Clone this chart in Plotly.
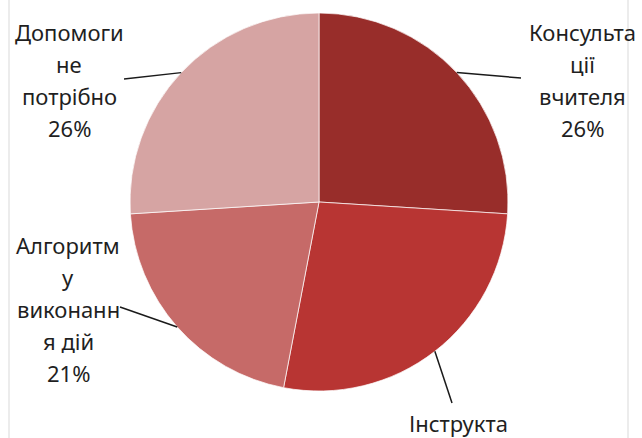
import math
import plotly.graph_objects as go

# ---- data ----
categories = ["Консультації вчителя", "Інструктаж", "Алгоритм у виконанні дій", "Допомоги не потрібно"]
values = [26, 27, 21, 26]
label_lines = [
    ["Консульта", "ції", "вчителя", "26%"],
    ["Інструкта"],                      # rest of this label falls outside the visible area
    ["Алгоритм", "у", "виконанн", "я дій", "21%"],
    ["Допомоги", "не", "потрібно", "26%"],
]
colors = ["#982D2A", "#B83533", "#C66A68", "#D6A4A3"]

# ---- layout constants (pixels) ----
W, H = 642, 438
CX, CY, R = 319, 202, 189
label_pos = [(582, 32), (458, 423), (68, 245), (69, 32)]   # centre x, first-line centre y
line_step = 32
leader_end = [(521, 78), (452, 403), (120, 307), (124, 79)]
FONT = "Noto Sans"

def px(x):
    return x / W

def py(y):
    return 1 - y / H

fig = go.Figure(go.Pie(
    labels=categories,
    values=values,
    sort=False,
    direction="clockwise",
    rotation=0,
    marker=dict(colors=colors, line=dict(color="rgba(255,255,255,0.7)", width=1)),
    textinfo="none",
    hoverinfo="label+percent",
    domain=dict(x=[px(CX - R), px(CX + R)], y=[py(CY + R), py(CY - R)]),
    showlegend=False,
))

shapes = []
annotations = []
total = sum(values)
cum = 0
for i, v in enumerate(values):
    mid = (cum + v / 2) / total * 2 * math.pi
    cum += v
    sx = CX + R * math.sin(mid)
    sy = CY - R * math.cos(mid)
    ex, ey = leader_end[i]
    shapes.append(dict(type="line", xref="paper", yref="paper",
                       x0=px(sx), y0=py(sy), x1=px(ex), y1=py(ey),
                       line=dict(color="#1a1a1a", width=1.5)))
    lx, ly = label_pos[i]
    for k, t in enumerate(label_lines[i]):
        annotations.append(dict(text=t, x=px(lx), y=py(ly + k * line_step),
                                xref="paper", yref="paper", showarrow=False,
                                xanchor="center", yanchor="middle",
                                font=dict(family=FONT, size=22, color="#1f1f1f")))

# faint frame lines at left and right
for xv in (9, 628):
    shapes.append(dict(type="line", xref="paper", yref="paper",
                       x0=px(xv), x1=px(xv), y0=0, y1=1,
                       line=dict(color="#d9d9d9", width=1)))

fig.update_layout(
    width=W, height=H,
    margin=dict(l=0, r=0, t=0, b=0),
    paper_bgcolor="white",
    plot_bgcolor="white",
    shapes=shapes,
    annotations=annotations,
)

fig.write_html("out.html")
